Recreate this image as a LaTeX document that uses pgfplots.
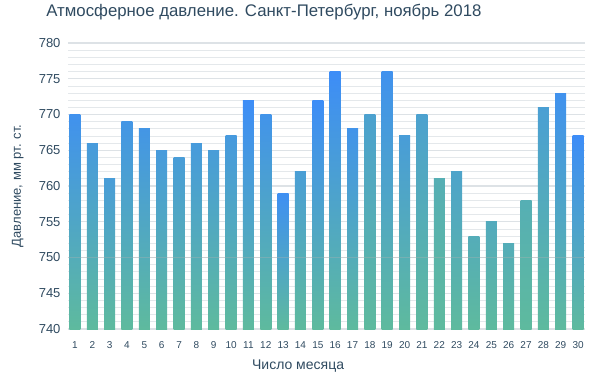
\documentclass[border=0pt]{standalone}
\usepackage{fontspec}
\setmainfont{Liberation Sans}
\usepackage{pgfplots}
\pgfplotsset{compat=1.18}
\definecolor{txt}{HTML}{2F4A60}
\definecolor{barblue}{HTML}{3D8DF7}
\definecolor{barteal}{HTML}{5EBA9E}
\definecolor{gridc}{HTML}{DDE2E6}
\definecolor{gridm}{HTML}{E4E8EB}
\newcommand\daybar[3]{\addplot[draw=none, bar shift=0pt, bottom color=barteal, top color=barblue!#3!barteal] coordinates {(#1,#2)};}
\begin{document}
\begin{tikzpicture}
\begin{axis}[
  scale only axis, width=517pt, height=286pt,
  at={(0pt,0pt)}, anchor=south west,
  xmin=0.6, xmax=30.4, ymin=740, ymax=780,
  y coord trafo/.code={\pgfmathparse{#1-740}},
  y coord inv trafo/.code={\pgfmathparse{#1+740}},
  ytick={740,745,...,780},
  minor ytick={741,742,743,744,746,747,748,749,751,752,753,754,756,757,758,759,761,762,763,764,766,767,768,769,771,772,773,774,776,777,778,779},
  xtick={1,...,30},
  ybar, bar width=11pt,
  axis lines*=left,
  x axis line style={draw=gridc, line width=1.8pt},
  y axis line style={draw=none},
  tick style={draw=none},
  ymajorgrids, yminorgrids,
  major grid style={draw=gridc, line width=1.3pt},
  minor grid style={draw=gridm, line width=0.8pt},
  yticklabel style={font=\fontsize{13}{13}\selectfont, color=txt, xshift=-4pt},
  xticklabel style={font=\fontsize{10}{10}\selectfont, color=txt, yshift=-5pt},
  /pgf/number format/assume math mode=true,
  yticklabel={\pgfmathprintnumber[fixed]{\tick}},
  every axis title shift=0pt,
  title={Атмосферное давление. Санкт-Петербург, ноябрь 2018},
  title style={at={(axis description cs:0.379,1.108)}, anchor=center, font=\fontsize{16.8}{17}\selectfont, color=txt},
  xlabel={Число месяца},
  every axis x label/.style={at={(axis description cs:0.445,-0.128)}, anchor=center, font=\fontsize{14}{14}\selectfont, color=txt},
  ylabel={Давление, мм рт. ст.},
  every axis y label/.style={at={(axis description cs:-0.097,0.5)}, rotate=90, anchor=center, font=\fontsize{13}{14}\selectfont, color=txt},
]
\daybar{1}{770}{90}
\daybar{2}{766}{70}
\daybar{3}{761}{65}
\daybar{4}{769}{80}
\daybar{5}{768}{80}
\daybar{6}{765}{70}
\daybar{7}{764}{65}
\daybar{8}{766}{70}
\daybar{9}{765}{65}
\daybar{10}{767}{72}
\daybar{11}{772}{100}
\daybar{12}{770}{85}
\daybar{13}{759}{95}
\daybar{14}{762}{62}
\daybar{15}{772}{100}
\daybar{16}{776}{100}
\daybar{17}{768}{85}
\daybar{18}{770}{55}
\daybar{19}{776}{90}
\daybar{20}{767}{65}
\daybar{21}{770}{55}
\daybar{22}{761}{25}
\daybar{23}{762}{50}
\daybar{24}{753}{30}
\daybar{25}{755}{35}
\daybar{26}{752}{30}
\daybar{27}{758}{25}
\daybar{28}{771}{60}
\daybar{29}{773}{90}
\daybar{30}{767}{100}
\draw[color=gray!60, opacity=0.35, line width=0.8pt] (axis cs:0.6,750) -- (axis cs:30.4,750);
\end{axis}
\pgfresetboundingbox
\path (-68pt,-49pt) rectangle (524pt,329pt);
\end{tikzpicture}
\end{document}
